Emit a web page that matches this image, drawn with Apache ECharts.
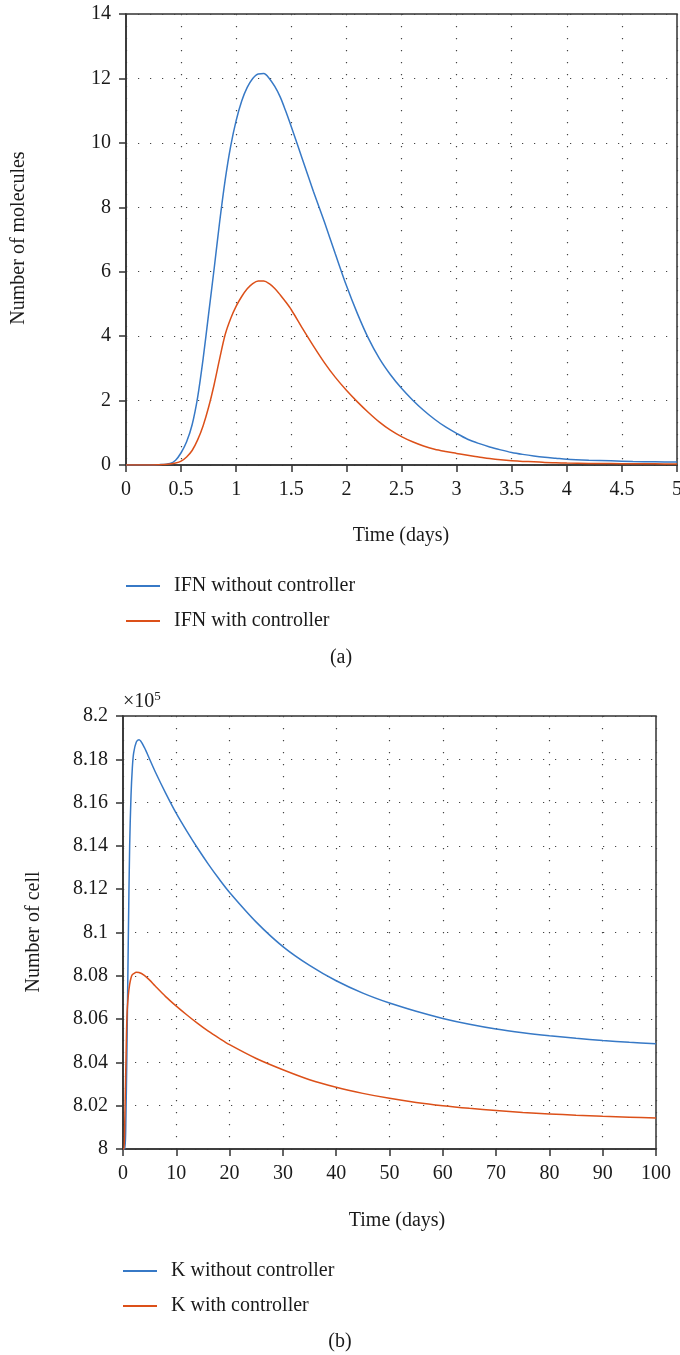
<!DOCTYPE html>
<html><head><meta charset="utf-8">
<script src="https://cdn.jsdelivr.net/npm/echarts@6/dist/echarts.min.js"></script>
<style>html,body{margin:0;padding:0;background:#fff}#c{width:680px;height:1355px}</style>
</head><body><div id="c"></div>
<script>
// Panel (a): IFN molecules vs time (days)
const ifnTime = [0,0.1,0.2,0.3,0.4,0.45,0.5,0.55,0.6,0.65,0.7,0.75,0.8,0.85,0.9,0.95,1.0,1.05,1.1,1.15,1.2,1.25,1.3,1.35,1.4,1.45,1.5,1.6,1.7,1.8,1.9,2.0,2.1,2.2,2.3,2.4,2.5,2.6,2.7,2.8,2.9,3.0,3.1,3.2,3.3,3.4,3.5,3.6,3.7,3.8,3.9,4.0,4.2,4.4,4.6,4.8,5.0];
const ifnWithout = [0,0,0,0.01,0.05,0.15,0.38,0.72,1.25,2.1,3.3,4.7,6.1,7.55,8.85,9.9,10.7,11.3,11.72,12.0,12.14,12.15,12.0,11.75,11.42,10.98,10.5,9.5,8.5,7.55,6.55,5.57,4.7,3.93,3.3,2.8,2.38,2.02,1.7,1.42,1.18,0.98,0.8,0.67,0.56,0.47,0.39,0.33,0.28,0.24,0.21,0.18,0.15,0.13,0.11,0.1,0.09];
const ifnWith = [0,0,0,0.005,0.03,0.06,0.12,0.25,0.45,0.78,1.22,1.8,2.5,3.3,4.05,4.55,4.93,5.23,5.47,5.63,5.71,5.71,5.63,5.48,5.28,5.06,4.82,4.25,3.7,3.18,2.72,2.32,1.96,1.63,1.33,1.08,0.88,0.72,0.59,0.49,0.42,0.36,0.3,0.25,0.2,0.16,0.13,0.11,0.1,0.08,0.07,0.06,0.05,0.045,0.04,0.035,0.03];
// Panel (b): K cells (x10^5) vs time (days)
const kTime = [0,0.2,0.35,0.5,0.75,1,1.25,1.5,1.75,2,2.5,3,4,5,6,8,10,12,14,16,18,20,25,30,35,40,45,50,55,60,65,70,75,80,85,90,95,100];
const kWithout = [8.0,8.0,8.0,8.008,8.048,8.098,8.14,8.163,8.176,8.183,8.188,8.189,8.1855,8.18,8.1745,8.1644,8.155,8.1467,8.1389,8.1316,8.1248,8.1185,8.1048,8.0935,8.0848,8.0777,8.072,8.0674,8.0636,8.0603,8.0576,8.0554,8.0537,8.0523,8.0511,8.0501,8.0493,8.0486];
const kWith = [8.0,8.0,8.015,8.034,8.062,8.071,8.076,8.079,8.0805,8.081,8.0816,8.0815,8.0802,8.078,8.0754,8.0704,8.066,8.0619,8.058,8.0544,8.0512,8.0482,8.0418,8.0366,8.032,8.0285,8.0257,8.0234,8.0215,8.02,8.0188,8.0178,8.0169,8.0162,8.0156,8.0151,8.0147,8.0143];

const seriesNames = ['IFN without controller','IFN with controller','K without controller','K with controller'];
const BLUE = '#3779c6', RED = '#dc5019';
const FONT = '"Liberation Serif", "Times New Roman", serif';
const TXT = {fontFamily: FONT, fontSize: 20, color: '#1a1a1a'};
const pair = (t, v) => t.map((x, i) => [x, v[i]]);

function axis(gridIndex, min, max, interval) {
  return {
    type: 'value', gridIndex, min, max, interval,
    axisLine: {show: true, onZero: false, lineStyle: {color: '#333', width: 1.6}},
    axisTick: {show: true, inside: false, length: 7, lineStyle: {color: '#333', width: 1.5}},
    axisLabel: Object.assign({margin: 15}, TXT),
    splitLine: {show: true, lineStyle: {color: '#444', width: 1.2, type: [1.2, 10.8]}}
  };
}
function line(name, data, color, xi) {
  return {
    name, type: 'line', xAxisIndex: xi, yAxisIndex: xi, data,
    showSymbol: false, symbol: 'none', smooth: 0.3, color,
    itemStyle: {color}, lineStyle: {color, width: 1.5}, animation: false
  };
}
function legend(names, left, top) {
  return {
    data: names, orient: 'vertical', left, top, icon: 'rect', padding: 0,
    itemWidth: 34, itemHeight: 2, itemGap: 9, selectedMode: false,
    textStyle: Object.assign({lineHeight: 20, padding: [0, 0, 6, 9]}, TXT)
  };
}
function label(text, x, y, rot) {
  return {type: 'text', x, y, rotation: rot || 0,
    style: {text, font: '20px ' + FONT, fill: '#1a1a1a', align: 'center', verticalAlign: 'middle'}};
}

const chart = echarts.init(document.getElementById('c'), null, {renderer: 'canvas'});
chart.setOption({
  animation: false,
  backgroundColor: '#fff',
  grid: [
    {left: 126, top: 14, width: 551, height: 451, show: true, borderColor: '#333', borderWidth: 1.5, outerBoundsMode: 'none', containLabel: false},
    {left: 123, top: 716, width: 533, height: 433, show: true, borderColor: '#333', borderWidth: 1.5, outerBoundsMode: 'none', containLabel: false}
  ],
  xAxis: [axis(0, 0, 5, 0.5), axis(1, 0, 100, 10)],
  yAxis: [axis(0, 0, 14, 2), axis(1, 8, 8.2, 0.02)],
  legend: [legend(seriesNames.slice(0, 2), 126, 573), legend(seriesNames.slice(2), 123, 1258)],
  series: [
    line(seriesNames[0], pair(ifnTime, ifnWithout), BLUE, 0),
    line(seriesNames[1], pair(ifnTime, ifnWith), RED, 0),
    line(seriesNames[2], pair(kTime, kWithout), BLUE, 1),
    line(seriesNames[3], pair(kTime, kWith), RED, 1)
  ],
  graphic: [
    label('Number of molecules', 18.5, 238, Math.PI / 2),
    label('Time (days)', 401, 536),
    label('(a)', 341, 658),
    label('Number of cell', 34, 932, Math.PI / 2),
    label('Time (days)', 397, 1221),
    label('(b)', 340, 1342),
    {type: 'text', x: 123, y: 702, style: {
      text: '×10{s|5}', font: '20px ' + FONT, fill: '#1a1a1a', verticalAlign: 'middle', align: 'left',
      rich: {s: {fontFamily: FONT, fontSize: 13, verticalAlign: 'top', padding: [0, 0, 10, 0]}}}}
  ]
});
</script>
</body></html>
